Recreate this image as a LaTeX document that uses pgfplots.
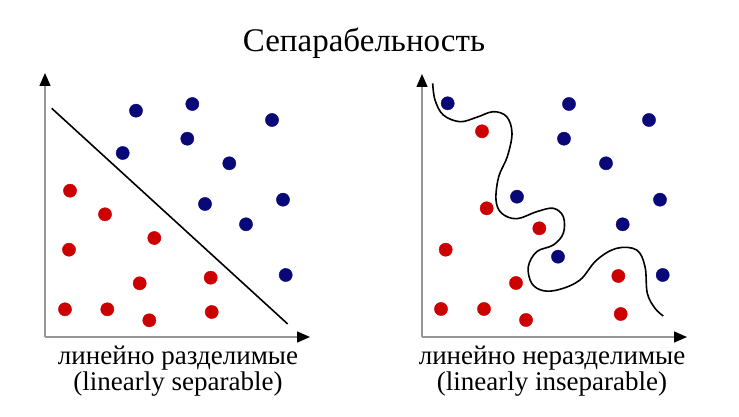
\documentclass[border=0pt]{standalone}
\usepackage{fontspec}
\setmainfont{Liberation Serif}
\usepackage{pgfplots}
\pgfplotsset{compat=1.18}
\usetikzlibrary{arrows.meta}
\definecolor{dotred}{RGB}{204,0,0}
\definecolor{dotblue}{RGB}{8,8,120}
\definecolor{axgray}{RGB}{150,150,150}
\pgfplotsset{
  panel/.style={
    x=1bp, y=1bp,
    axis lines=left,
    ticks=none,
    clip=false,
    anchor=south west,
    axis line style={axgray, line width=1.4bp},
    x axis line style={-{Triangle[color=black,length=13bp,width=11bp]}},
    y axis line style={-{Triangle[color=black,length=13bp,width=11bp]}},
  },
  reddot/.style={only marks, mark=*, mark size=6.6bp, mark options={fill=dotred, draw=dotred}},
  bluedot/.style={only marks, mark=*, mark size=6.6bp, mark options={fill=dotblue, draw=dotblue}},
}
\begin{document}
\begin{tikzpicture}
\useasboundingbox (0,0) rectangle (739bp,417bp);
\begin{axis}[panel, at={(45bp,80bp)}, xmin=45, xmax=310, ymin=80, ymax=344]
\addplot[bluedot] coordinates {(136,306.3) (192.3,313) (272,297) (187.3,278.3) (122.7,264) (229.3,253.7) (205,213) (283,217.3) (246,192.7) (285.7,142)};
\addplot[reddot] coordinates {(70,226.3) (105,202.7) (154.3,179) (69,167.3) (139.7,133.7) (210.7,139.3) (65,107.7) (107.3,107.7) (149.3,96.7) (211.7,105)};
\addplot[black, line width=1.6bp] coordinates {(51.7,308.7) (287.7,93)};
\end{axis}
\begin{axis}[panel, at={(422bp,80bp)}, xmin=422, xmax=687, ymin=80, ymax=343]
\addplot[bluedot] coordinates {(447.7,313.7) (569,313) (649,297) (564,278.3) (606,253.7) (517,220.3) (660,217.3) (622.7,192.7) (558,160.3) (662.7,142)};
\addplot[reddot] coordinates {(482,285.7) (486.7,208.7) (539.3,188.7) (445.7,167.3) (516,134) (618.3,141) (441,108) (484,108) (526,97) (620.7,103)};
\addplot[black, line width=1.6bp, smooth, tension=0.6] coordinates {(432.7,333.7) (435,317) (443.3,302) (460,295.3) (476.7,299.7) (493.3,305.3) (506.7,300.3) (512,283.7) (507.3,260.3) (498.7,240.3) (496,217) (501.7,203.7) (516.7,198.3) (536.7,205.3) (553.3,208.7) (563.3,200.3) (563.3,183.7) (553.3,172) (536.7,165.3) (528.3,150.3) (531.7,133.7) (543.3,126.3) (560,127.7) (580,137) (596.7,157) (616.7,168.7) (636.7,167) (645,150.3) (647.3,123.7) (655,108.7) (663.3,101)};
\end{axis}
\node[font=\fontsize{33bp}{36bp}\selectfont] at (364bp,374bp) {Сепарабельность};
\node[font=\fontsize{27bp}{24bp}\selectfont, align=center] at (178bp,46bp) {линейно разделимые\\(linearly separable)};
\node[font=\fontsize{27bp}{24bp}\selectfont, align=center] at (552bp,46bp) {линейно неразделимые\\(linearly inseparable)};
\end{tikzpicture}
\end{document}
